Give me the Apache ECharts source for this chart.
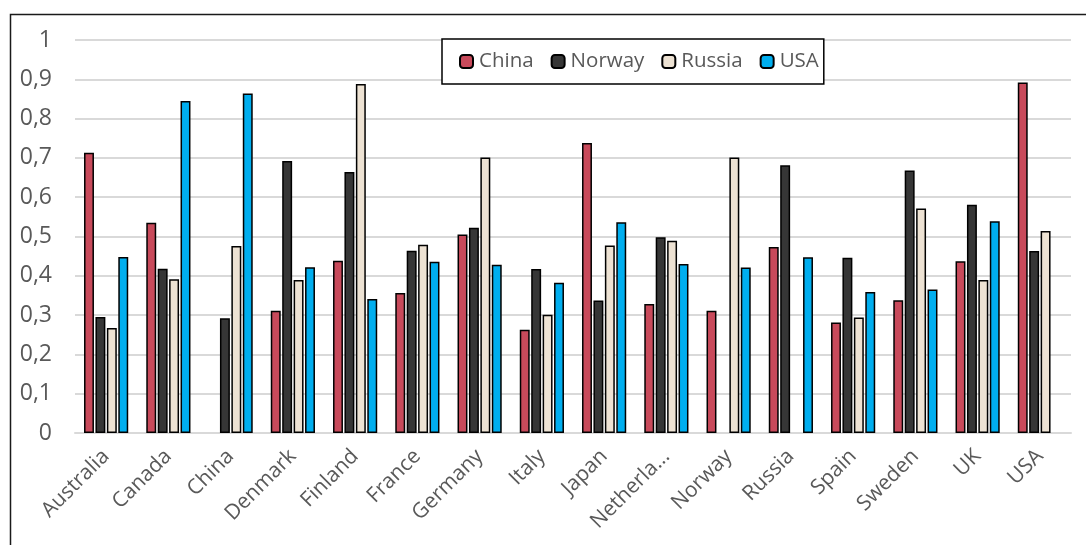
<!DOCTYPE html>
<html>
<head>
<meta charset="utf-8">
<title>Country scores</title>
<script src="https://cdn.jsdelivr.net/npm/echarts@6/dist/echarts.min.js"></script>
<style>
  html, body { margin: 0; padding: 0; background: #fff; }
  #chart { width: 1086px; height: 545px; }
</style>
</head>
<body>
<div id="chart"></div>
<script>
// Countries on the category axis
const countries = ['Australia', 'Canada', 'China', 'Denmark', 'Finland', 'France', 'Germany',
  'Italy', 'Japan', 'Netherlands', 'Norway', 'Russia', 'Spain', 'Sweden', 'UK', 'USA'];

// One series per rating country (null = no bar for itself)
const chinaValues  = [0.713, 0.535, null, 0.311, 0.438, 0.356, 0.505, 0.263, 0.738, 0.328, 0.311, 0.473, 0.281, 0.338, 0.437, 0.892];
const norwayValues = [0.295, 0.418, 0.292, 0.692, 0.664, 0.464, 0.522, 0.417, 0.337, 0.498, null, 0.681, 0.446, 0.668, 0.581, 0.463];
const russiaValues = [0.267, 0.391, 0.476, 0.389, 0.888, 0.479, 0.701, 0.301, 0.477, 0.489, 0.701, null, 0.294, 0.571, 0.389, 0.514];
const usaValues    = [0.448, 0.845, 0.864, 0.422, 0.341, 0.436, 0.428, 0.382, 0.536, 0.430, 0.421, 0.447, 0.359, 0.365, 0.539, null];

// Y axis ticks
const yMin = 0, yMax = 1, yStep = 0.1;

const seriesDefs = [
  { name: 'China',  data: chinaValues,  color: '#C84A5B' },
  { name: 'Norway', data: norwayValues, color: '#363636' },
  { name: 'Russia', data: russiaValues, color: '#EDE2D3' },
  { name: 'USA',    data: usaValues,    color: '#00AEEF' }
];

const textColor = '#595959';
const font = 'Open Sans';

const chart = echarts.init(document.getElementById('chart'), null, { renderer: 'canvas' });

chart.setOption({
  animation: false,
  backgroundColor: '#fff',
  textStyle: { fontFamily: font },
  graphic: [{
    type: 'rect',
    left: 8, top: 12,
    shape: { width: 1100, height: 560 },
    style: { fill: 'none', stroke: '#1a1a1a', lineWidth: 1.5 },
    silent: true,
    z: -10
  }],
  legend: {
    left: 442, top: 39,
    padding: [12, 5, 12, 17],
    itemWidth: 13, itemHeight: 13, itemGap: 17,
    backgroundColor: '#fff',
    borderColor: '#000', borderWidth: 1.5,
    textStyle: { fontSize: 20.5, color: textColor, fontFamily: font, padding: [0, 0, 0, 1] },
    data: seriesDefs.map(s => s.name)
  },
  grid: { left: 75, right: 15, top: 40, bottom: 112, containLabel: false },
  xAxis: {
    type: 'category',
    data: countries,
    axisLine: { show: true, lineStyle: { color: '#D9D9D9', width: 2 } },
    axisTick: { show: false },
    axisLabel: {
      rotate: 45,
      margin: 20,
      interval: 0,
      fontSize: 21,
      color: textColor,
      fontFamily: font,
      formatter: v => (v.length > 9 ? v.slice(0, 8) + '...' : v)
    }
  },
  yAxis: {
    type: 'value',
    min: yMin, max: yMax, interval: yStep,
    axisLine: { show: false },
    axisTick: { show: false },
    splitLine: { lineStyle: { color: '#D9D9D9', width: 2 } },
    axisLabel: {
      margin: 23,
      fontSize: 23,
      color: textColor,
      fontFamily: font,
      formatter: v => (Math.round(v * 10) / 10).toString().replace('.', ',')
    }
  },
  series: seriesDefs.map(s => ({
    name: s.name,
    type: 'bar',
    data: s.data,
    barGap: '15%',
    barCategoryGap: '29%',
    itemStyle: { color: s.color, borderColor: '#000', borderWidth: 1.5 }
  }))
});
</script>
</body>
</html>
